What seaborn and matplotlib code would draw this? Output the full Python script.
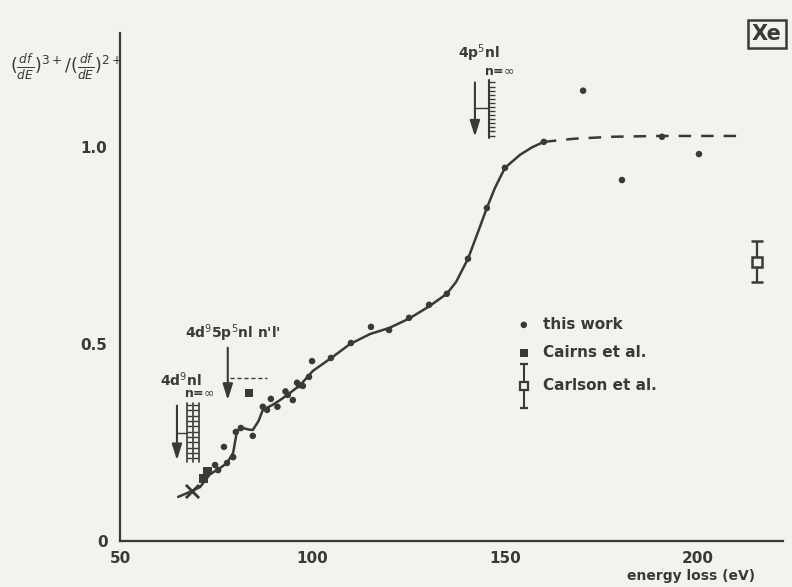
import numpy as np
import pandas as pd
import matplotlib
matplotlib.use("Agg")
import matplotlib.pyplot as plt
import seaborn as sns

# ---------------- data ----------------
work_E = [72.6, 74.7, 75.5, 77.0, 77.8, 79.4, 80.1, 81.4, 84.5, 87.1, 88.2, 89.2,
          90.9, 93.0, 93.6, 94.9, 96.0, 96.5, 97.5, 99.1, 99.9, 104.8, 110.0,
          115.2, 119.9, 125.1, 130.3, 134.9, 140.4, 145.3, 150.0, 160.1, 170.3,
          180.4, 190.8, 200.4]
work_y = [0.173, 0.193, 0.180, 0.239, 0.198, 0.213, 0.277, 0.287, 0.267, 0.341,
          0.333, 0.361, 0.341, 0.380, 0.371, 0.358, 0.402, 0.396, 0.394, 0.417,
          0.457, 0.465, 0.503, 0.544, 0.536, 0.567, 0.600, 0.628, 0.717, 0.846,
          0.948, 1.014, 1.144, 0.917, 1.027, 0.983]

cairns_E = [71.6, 72.8, 83.5]
cairns_y = [0.158, 0.178, 0.376]

cross_E = [68.8]
cross_y = [0.128]

carlson_E = [215.5]
carlson_y = [0.709]
carlson_err = [0.052]

fit_E = [65.1, 68.0, 70.8, 73.4, 75.5, 77.8, 79.4, 80.4, 81.9, 83.5, 84.5, 86.0,
         87.1, 89.5, 91.6, 94.0, 96.8, 100.1, 105.3, 109.7, 115.0, 119.9, 125.1,
         130.3, 134.9, 137.3, 140.4, 143.0, 145.3, 147.4, 150.0, 153.9, 157.0,
         160.1]
fit_y = [0.112, 0.124, 0.137, 0.170, 0.182, 0.198, 0.224, 0.280, 0.287, 0.283,
         0.282, 0.305, 0.333, 0.345, 0.358, 0.375, 0.396, 0.432, 0.468, 0.500,
         0.526, 0.541, 0.565, 0.596, 0.628, 0.658, 0.717, 0.785, 0.846, 0.897,
         0.948, 0.981, 1.000, 1.014]

ext_E = [160.1, 168.0, 178.0, 190.0, 210.3]
ext_y = [1.014, 1.022, 1.027, 1.029, 1.029]

x_ticks = [50, 100, 150, 200]
y_ticks = [0, 0.5, 1.0]
y_ticklabels = ["0", "0.5", "1.0"]

# ---------------- style ----------------
sns.set_theme(style="white")
plt.rcParams["font.family"] = ["DejaVu Sans"]
ink = "#3a3936"
bg = "#f3f2ee"

fig = plt.figure(figsize=(7.92, 5.87), dpi=100, facecolor=bg)
ax = fig.add_axes([0.1515, 0.0784, 0.837, 0.865], facecolor=bg)

fit_df = pd.DataFrame({"E": fit_E, "y": fit_y})
ext_df = pd.DataFrame({"E": ext_E, "y": ext_y})
sns.lineplot(data=fit_df, x="E", y="y", ax=ax, color=ink, lw=1.8, sort=False)
sns.lineplot(data=ext_df, x="E", y="y", ax=ax, color=ink, lw=1.8, sort=False,
             linestyle=(0, (5, 4)))

work_df = pd.DataFrame({"E": work_E, "y": work_y})
sns.scatterplot(data=work_df, x="E", y="y", ax=ax, color=ink, s=22,
                edgecolor="none", zorder=5)
cairns_df = pd.DataFrame({"E": cairns_E, "y": cairns_y})
sns.scatterplot(data=cairns_df, x="E", y="y", ax=ax, color=ink, marker="s",
                s=40, edgecolor="none", zorder=5)
ax.scatter(cross_E, cross_y, marker="x", s=90, color=ink, linewidths=2, zorder=5)
ax.errorbar(carlson_E, carlson_y, yerr=carlson_err, fmt="s", mfc=bg, mec=ink,
            ms=7, mew=1.8, ecolor=ink, elinewidth=1.6, capsize=4, capthick=1.6,
            zorder=6)

# ---------------- axes ----------------
ax.set_xlim(50, 222.2)
ax.set_ylim(0, 1.29)
ax.set_xticks(x_ticks)
ax.set_xticklabels([str(t) for t in x_ticks], fontweight="bold", fontsize=11)
ax.set_yticks(y_ticks)
ax.set_yticklabels(y_ticklabels, fontweight="bold", fontsize=11)
ax.tick_params(axis="both", direction="out", length=6, width=1.4, colors=ink,
               pad=3)
ax.tick_params(axis="x", direction="inout", length=8)
for s in ["top", "right"]:
    ax.spines[s].set_visible(False)
for s in ["left", "bottom"]:
    ax.spines[s].set_color(ink)
    ax.spines[s].set_linewidth(1.6)
ax.set_xlabel("")
ax.set_ylabel("")

fig.text(0.872, 0.018, "energy loss (eV)", fontsize=10, fontweight="bold",
         color=ink, ha="center", va="center")
fig.text(0.012, 0.885, r"$(\frac{df}{dE})^{3+} / (\frac{df}{dE})^{2+}$",
         fontsize=12.5, color=ink, ha="left", va="center")
fig.text(0.968, 0.942, "Xe", fontsize=15, fontweight="bold", color=ink,
         ha="center", va="center",
         bbox=dict(boxstyle="square,pad=0.2", fc=bg, ec=ink, lw=1.8))

# ---------------- annotations ----------------
arrow_kw = dict(arrowstyle="-|>,head_width=0.25,head_length=0.8", color=ink,
                lw=1.5)

# 4p5 nl
ax.text(143.3, 1.238, r"4p$^5$nl", fontsize=10, fontweight="bold", color=ink,
        ha="center", va="center")
ax.text(148.4, 1.194, r"n=$\infty$", fontsize=9, fontweight="bold", color=ink,
        ha="center", va="center")
ax.annotate("", xy=(142.2, 1.02), xytext=(142.2, 1.172), arrowprops=arrow_kw)
ax.plot([145.8, 145.8], [1.025, 1.172], color=ink, lw=1.5)
ax.plot([142.2, 145.8], [1.10, 1.10], color=ink, lw=1.0)
hy = np.linspace(1.03, 1.165, 14)
ax.plot(np.full_like(hy, 145.8), hy, ls="none", marker=1, ms=4, mew=1.0,
        color=ink)

# 4d9 5p5 nl n'l'
ax.text(79.4, 0.529, r"4d$^9$5p$^5$nl n'l'", fontsize=10, fontweight="bold",
        color=ink, ha="center", va="center")
ax.annotate("", xy=(78.0, 0.351), xytext=(78.0, 0.498), arrowprops=arrow_kw)
ax.plot([78.6, 88.2], [0.414, 0.414], color=ink, lw=1.0, ls=(0, (3, 2)))

# 4d9 nl
ax.text(65.8, 0.409, r"4d$^9$nl", fontsize=10, fontweight="bold", color=ink,
        ha="center", va="center")
ax.text(70.5, 0.374, r"n=$\infty$", fontsize=9, fontweight="bold", color=ink,
        ha="center", va="center")
ax.annotate("", xy=(64.8, 0.198), xytext=(64.8, 0.351), arrowprops=arrow_kw)
for xv in [67.4, 69.0, 70.6]:
    ax.plot([xv, xv], [0.201, 0.351], color=ink, lw=1.2)
ax.plot([64.8, 67.4], [0.274, 0.274], color=ink, lw=1.0)
hy2 = np.linspace(0.21, 0.345, 11)
for xv in [67.4, 69.0]:
    ax.plot(np.full_like(hy2, xv), hy2, ls="none", marker=1, ms=3.5, mew=1.0,
            color=ink)

# ---------------- legend ----------------
lx, tx = 154.9, 159.9
ax.scatter([lx], [0.549], s=22, color=ink, edgecolor="none")
ax.text(tx, 0.549, "this work", fontsize=11, fontweight="bold", color=ink,
        va="center")
ax.scatter([lx], [0.478], s=36, marker="s", color=ink, edgecolor="none")
ax.text(tx, 0.478, "Cairns et al.", fontsize=11, fontweight="bold", color=ink,
        va="center")
ax.errorbar([lx], [0.394], yerr=[0.055], fmt="s", mfc=bg, mec=ink, ms=6,
            mew=1.6, ecolor=ink, elinewidth=1.5, capsize=3, capthick=1.5)
ax.text(tx, 0.394, "Carlson et al.", fontsize=11, fontweight="bold",
        color=ink, va="center")

fig.savefig("out.png", dpi=100, facecolor=bg)
